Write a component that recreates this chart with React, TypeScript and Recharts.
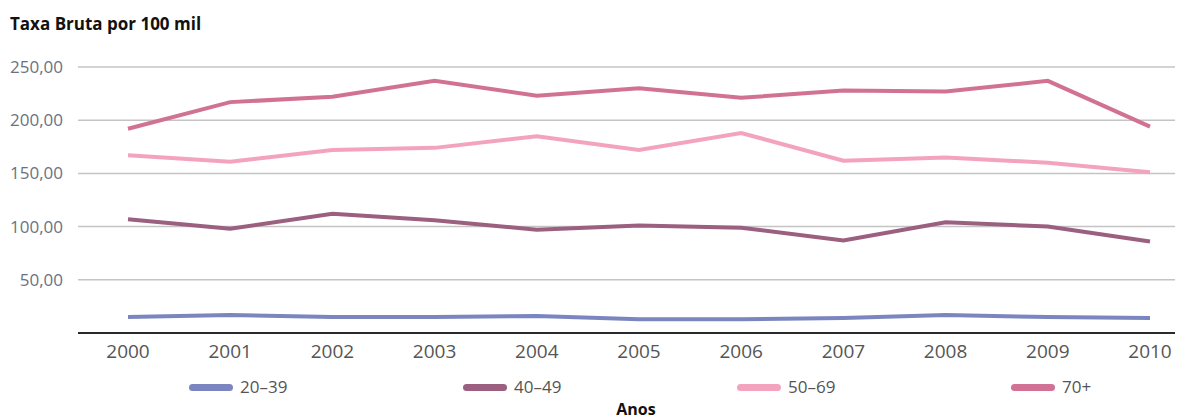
import React from 'react';
import { LineChart, Line, XAxis, YAxis, CartesianGrid } from 'recharts';

const years = ['2000', '2001', '2002', '2003', '2004', '2005', '2006', '2007', '2008', '2009', '2010'];
const age20to39 = [15, 17, 15, 15, 16, 13, 13, 14, 17, 15, 14];
const age40to49 = [107, 98, 112, 106, 97, 101, 99, 87, 104, 100, 86];
const age50to69 = [167, 161, 172, 174, 185, 172, 188, 162, 165, 160, 151];
const age70plus = [192, 217, 222, 237, 223, 230, 221, 228, 227, 237, 194];
const yTicks = [50, 100, 150, 200, 250];

const series = [
  { key: 'a', name: '20–39', color: '#7b86c0', values: age20to39 },
  { key: 'b', name: '40–49', color: '#9b5f80', values: age40to49 },
  { key: 'c', name: '50–69', color: '#f4a3be', values: age50to69 },
  { key: 'd', name: '70+', color: '#d17294', values: age70plus },
];

const data = years.map((year, i) => {
  const row: Record<string, string | number> = { year };
  series.forEach((s) => (row[s.key] = s.values[i]));
  return row;
});

const font = '"Open Sans", "Noto Sans", sans-serif';

// legend sits under the axis, one slot every 274px
const ChartLegend = () => (
  <div
    style={{
      position: 'absolute',
      left: 189,
      top: 375,
      height: 24,
      display: 'flex',
      fontFamily: font,
    }}
  >
    {series.map((s) => (
      <div key={s.key} style={{ width: 274, flexShrink: 0, display: 'flex', alignItems: 'center' }}>
        <span
          style={{
            display: 'inline-block',
            width: 44,
            height: 7,
            borderRadius: 3.5,
            background: s.color,
            marginRight: 7,
          }}
        />
        <span style={{ fontSize: 17, color: '#555', lineHeight: '24px' }}>{s.name}</span>
      </div>
    ))}
  </div>
);

export default function App() {
  return (
    <div style={{ position: 'absolute', left: 0, top: 0, width: 1190, height: 419, background: '#fff' }}>
      <div
        style={{
          position: 'absolute',
          left: 10,
          top: 12,
          fontFamily: font,
          fontWeight: 700,
          fontSize: 17,
          color: '#111',
        }}
      >
        Taxa Bruta por 100 mil
      </div>
      <LineChart width={1190} height={419} data={data} margin={{ top: 67, right: 15, bottom: 56, left: 8 }}>
        <CartesianGrid vertical={false} stroke="#c4c4c4" strokeWidth={1.5} />
        <XAxis
          dataKey="year"
          height={30}
          axisLine={{ stroke: '#2a2a2a', strokeWidth: 2 }}
          tickLine={false}
          tickSize={0}
          tickMargin={12}
          padding={{ left: 50, right: 25 }}
          tick={{ fill: '#555', fontSize: 19, fontFamily: font }}
          interval={0}
        />
        <YAxis
          width={70}
          domain={[0, 250]}
          ticks={yTicks}
          axisLine={false}
          tickLine={false}
          tickSize={0}
          tickMargin={15}
          tickFormatter={(v: number) => v.toFixed(2).replace('.', ',')}
          tick={{ fill: '#6a7282', fontSize: 17, fontFamily: font }}
        />
        {series.map((s) => (
          <Line
            key={s.key}
            dataKey={s.key}
            name={s.name}
            stroke={s.color}
            strokeWidth={4}
            dot={false}
            activeDot={false}
            isAnimationActive={false}
          />
        ))}
      </LineChart>
      <ChartLegend />
      <div
        style={{
          position: 'absolute',
          left: 586,
          width: 100,
          textAlign: 'center',
          top: 398,
          fontFamily: font,
          fontWeight: 700,
          fontSize: 16,
          color: '#111',
        }}
      >
        Anos
      </div>
    </div>
  );
}
